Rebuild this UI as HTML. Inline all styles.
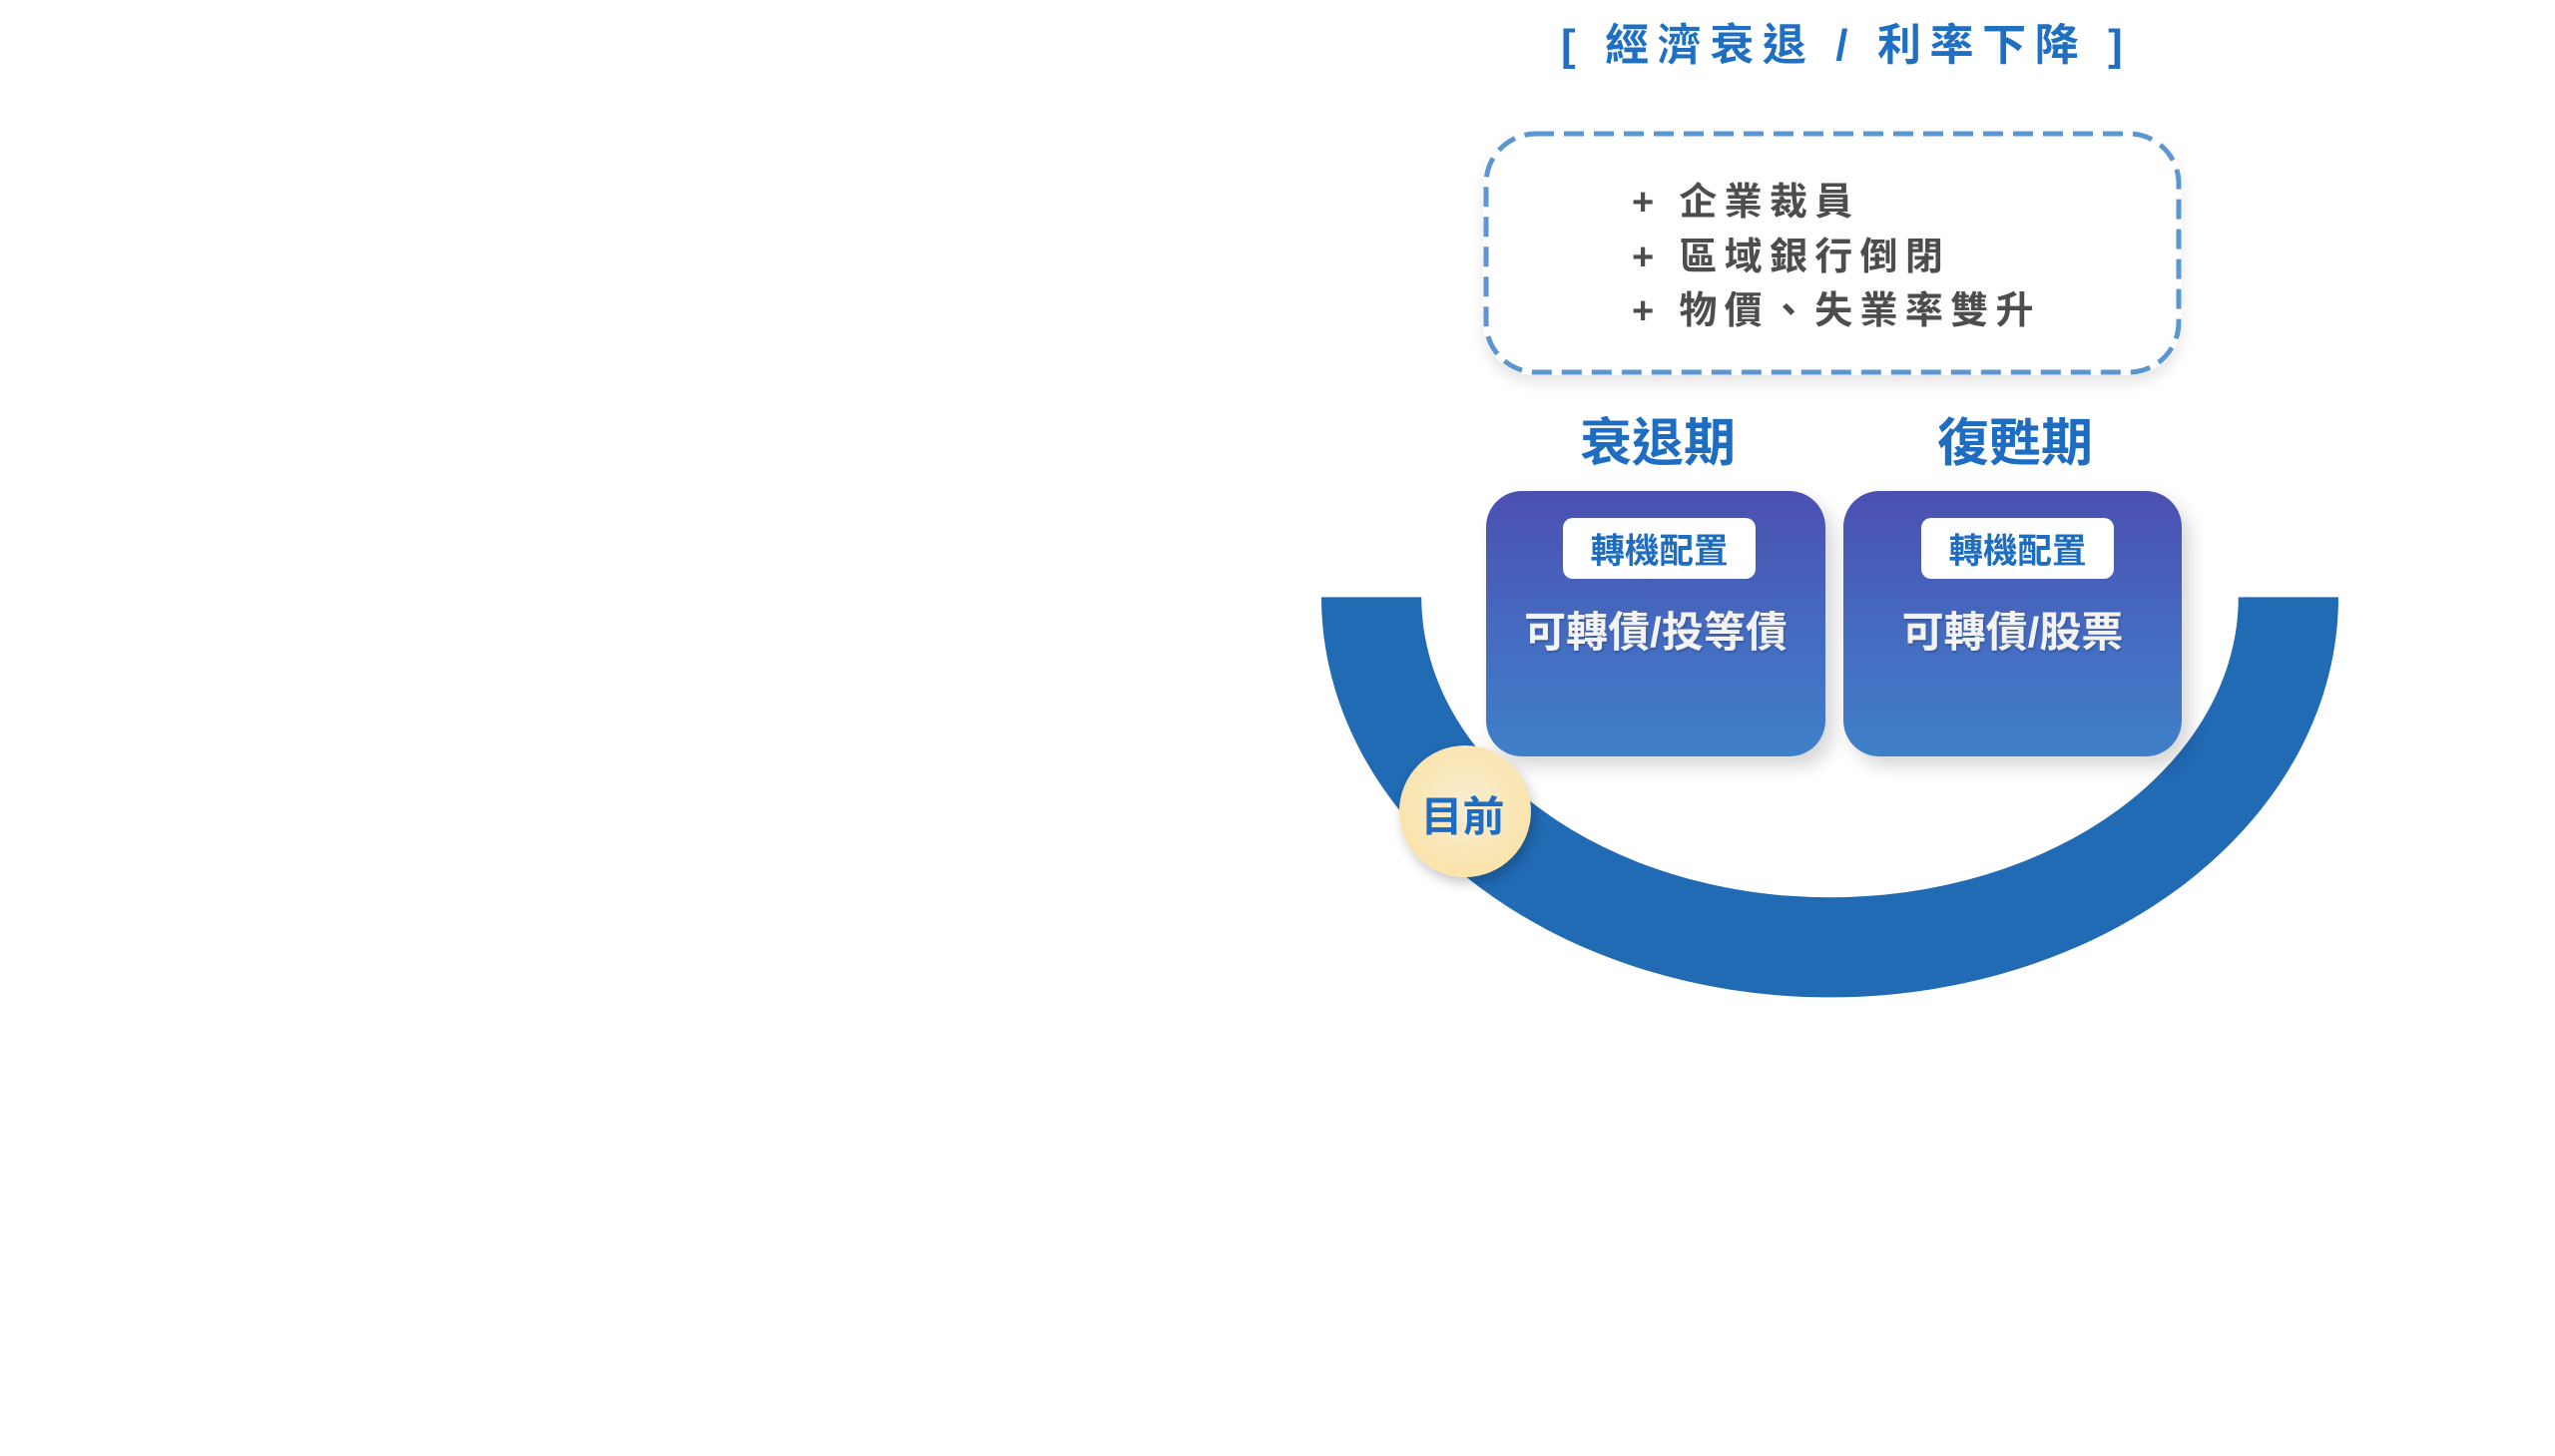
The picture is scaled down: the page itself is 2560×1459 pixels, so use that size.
<!DOCTYPE html>
<html>
<head>
<meta charset="utf-8">
<style>
  html, body { margin:0; padding:0; }
  body { width:2560px; height:1459px; background:#ffffff; position:relative; overflow:hidden;
         font-family:"Liberation Sans","Noto Sans CJK TC",sans-serif; }
  .abs { position:absolute; }
  .t { white-space:pre; font-weight:700; }
  .card { position:absolute; top:492px; height:266px; border-radius:36px;
          background:linear-gradient(180deg,#4c50b0 0%,#4569c0 50%,#3f80c9 100%);
          box-shadow:8px 10px 18px rgba(0,0,0,0.16); }
  .lab { position:absolute; left:77px; top:27px; width:193px; height:61px; border-radius:10px;
         background:#ffffff; }
  .lab span { position:absolute; left:0; top:4px; width:100%; text-align:center; line-height:61px;
         font-size:34.5px; font-weight:700; color:#1f6dc0; }
  .ctext { position:absolute; left:0; width:100%; top:121px; line-height:42px; font-size:42px;
           font-weight:700; color:#f3f3f3; text-align:center; white-space:pre;
           text-shadow:1px 2px 2px rgba(0,0,0,0.18); }
</style>
</head>
<body>

<!-- ring -->
<svg class="abs" style="left:0;top:0" width="2560" height="1459" viewBox="0 0 2560 1459">
  <path d="M 1324 598.4 A 509.5 401 0 0 0 2343 598.4 L 2242.8 598.4 A 409.3 301 0 0 1 1424.2 598.4 Z" fill="#216ab4"/>
</svg>

<!-- title -->
<div class="abs t" style="left:1564px;top:24px;font-size:44px;line-height:44px;letter-spacing:8.6px;color:#1f6fc2;">[ 經濟衰退 / 利率下降 ]</div>

<!-- dashed box -->
<div class="abs" style="left:1486px;top:131px;width:700px;height:245px;border-radius:52px;background:#fff;box-shadow:0 8px 14px rgba(0,0,0,0.10);"></div>
<svg class="abs" style="left:0;top:0" width="2560" height="420" viewBox="0 0 2560 420">
  <rect x="1489" y="134" width="694" height="239" rx="50" ry="50" fill="none" stroke="#5b96d3" stroke-width="5" stroke-dasharray="20 10" stroke-dashoffset="2"/>
</svg>

<div class="abs t" style="left:1635px;top:176px;font-size:38px;line-height:54.5px;letter-spacing:7.3px;color:#4d4d4d;">+ 企業裁員
+ 區域銀行倒閉
+ 物價、失業率雙升</div>

<!-- period labels -->
<div class="abs t" style="left:1561px;width:200px;text-align:center;top:419px;font-size:52px;line-height:52px;color:#1f6dc0;">衰退期</div>
<div class="abs t" style="left:1919px;width:200px;text-align:center;top:419px;font-size:52px;line-height:52px;color:#1f6dc0;">復甦期</div>

<!-- cards -->
<div class="card" style="left:1489px;width:340px;">
  <div class="lab"><span>轉機配置</span></div>
  <div class="ctext">可轉債/投等債</div>
</div>
<div class="card" style="left:1847px;width:339px;">
  <div class="lab" style="left:78px;"><span>轉機配置</span></div>
  <div class="ctext">可轉債/股票</div>
</div>

<!-- current circle -->
<div class="abs" style="left:1401.5px;top:746.5px;width:132px;height:132px;border-radius:50%;
     background:radial-gradient(circle at 50% 45%,#f9edd2 0%,#fae6b4 55%,#fbe09a 100%);
     box-shadow:3px 6px 12px rgba(0,0,0,0.22);"></div>
<div class="abs t" style="left:1405.5px;width:120px;text-align:center;top:797.5px;font-size:42px;line-height:42px;color:#1f6dc0;">目前</div>

</body>
</html>
